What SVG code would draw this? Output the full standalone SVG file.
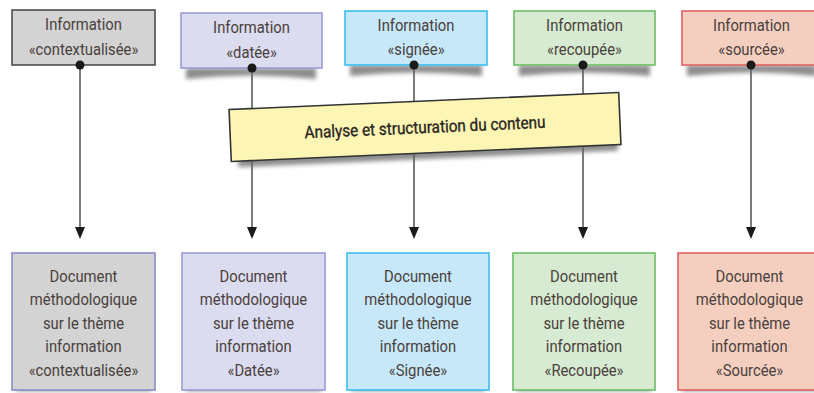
<svg xmlns="http://www.w3.org/2000/svg" width="814" height="393" viewBox="0 0 814 393">
<defs>
<style>
.t{font-family:Roboto,"Liberation Sans",sans-serif;font-size:17px;fill:#4a403c;text-anchor:middle}
.bt{font-family:Roboto,"Liberation Sans",sans-serif;font-size:17px;fill:#2a2522;stroke:#2a2522;stroke-width:0.35;text-anchor:middle}
.ln{stroke:#5a5a5a;stroke-width:1.6;fill:none}
.dot{fill:#1a1a1a}
.sh{fill:#666;opacity:0.75;filter:url(#blur)}
</style>
<filter id="blur" x="-20%" y="-100%" width="140%" height="300%"><feGaussianBlur stdDeviation="2"/></filter>
</defs>
<rect width="814" height="393" fill="#fff"/>

<g id="connectors">
<line class="ln" x1="80" y1="65" x2="80" y2="230"/>
<line class="ln" x1="252" y1="68" x2="252" y2="230"/>
<line class="ln" x1="414" y1="65" x2="414" y2="230"/>
<line class="ln" x1="583" y1="65" x2="583" y2="230"/>
<line class="ln" x1="751" y1="65" x2="751" y2="230"/>
<path d="M75,227 L85,227 L80,239 Z M247,227 L257,227 L252,239 Z M409,227 L419,227 L414,239 Z M578,227 L588,227 L583,239 Z M746,227 L756,227 L751,239 Z" fill="#1a1a1a"/>
</g>

<g id="top1">
<rect x="12" y="10" width="143" height="55" fill="#d3d3d3" stroke="#4d4d4d" stroke-width="1.6"/>
<g transform="translate(83.5,0) scale(0.87,1)"><text class="t" x="0" y="30">Information</text><text class="t" x="0" y="55">«contextualisée»</text></g>
<circle class="dot" cx="80" cy="65" r="4.5"/>
</g>
<g id="top2">
<path class="sh" d="M186,68 L316,68 L316,79 Q251,72 186,79 Z"/>
<rect x="181" y="13" width="141" height="55" fill="#dcdcf0" stroke="#9a9ad4" stroke-width="1.6"/>
<g transform="translate(251.5,0) scale(0.87,1)"><text class="t" x="0" y="33">Information</text><text class="t" x="0" y="58">«datée»</text></g>
<circle class="dot" cx="252" cy="68" r="4.5"/>
</g>
<g id="top3">
<path class="sh" d="M350,65 L482,65 L482,76 Q416,69 350,76 Z"/>
<rect x="345" y="11" width="142" height="54" fill="#c6e8f8" stroke="#3bbff0" stroke-width="1.6"/>
<g transform="translate(416,0) scale(0.87,1)"><text class="t" x="0" y="31">Information</text><text class="t" x="0" y="55">«signée»</text></g>
<circle class="dot" cx="414" cy="65" r="4.5"/>
</g>
<g id="top4">
<path class="sh" d="M519,65 L650,65 L650,76 Q584,69 519,76 Z"/>
<rect x="514" y="11" width="141" height="54" fill="#d6ebd1" stroke="#6cbd66" stroke-width="1.6"/>
<g transform="translate(584.5,0) scale(0.87,1)"><text class="t" x="0" y="31">Information</text><text class="t" x="0" y="55">«recoupée»</text></g>
<circle class="dot" cx="583" cy="65" r="4.5"/>
</g>
<g id="top5">
<path class="sh" d="M687,65 L816,65 L816,76 Q751,69 687,76 Z"/>
<rect x="682" y="11" width="140" height="54" fill="#f4cfc0" stroke="#e06060" stroke-width="1.6"/>
<g transform="translate(751.5,0) scale(0.87,1)"><text class="t" x="0" y="31">Information</text><text class="t" x="0" y="55">«sourcée»</text></g>
<circle class="dot" cx="751" cy="65" r="4.5"/>
</g>

<g id="banner" transform="translate(425,127) rotate(-2.5)">
<path class="sh" d="M-188,20 L192,20 L192,32 L-188,32 Z"/>
<rect x="-195" y="-26" width="390" height="52" fill="#fcf5b4" stroke="#333" stroke-width="1.6"/>
<g transform="scale(0.9,1)"><text class="bt" x="0" y="6">Analyse et structuration du contenu</text></g>
</g>

<g id="bottom1">
<rect class="sh" x="16" y="386" width="135" height="5"/>
<rect x="12" y="253" width="143" height="137" fill="#d3d3d3" stroke="#8a8cc8" stroke-width="1.6"/>
<g transform="translate(83.5,0) scale(0.87,1)"><text class="t" x="0" y="282">Document</text><text class="t" x="0" y="305">méthodologique</text><text class="t" x="0" y="329">sur le thème</text><text class="t" x="0" y="352">information</text><text class="t" x="0" y="376">«contextualisée»</text></g>
</g>
<g id="bottom2">
<rect class="sh" x="186" y="386" width="135" height="5"/>
<rect x="182" y="253" width="143" height="137" fill="#dcdcf0" stroke="#9a9ad4" stroke-width="1.6"/>
<g transform="translate(253.5,0) scale(0.87,1)"><text class="t" x="0" y="282">Document</text><text class="t" x="0" y="305">méthodologique</text><text class="t" x="0" y="329">sur le thème</text><text class="t" x="0" y="352">information</text><text class="t" x="0" y="376">«Datée»</text></g>
</g>
<g id="bottom3">
<rect class="sh" x="351" y="386" width="134" height="5"/>
<rect x="347" y="253" width="142" height="137" fill="#c6e8f8" stroke="#3bbff0" stroke-width="1.6"/>
<g transform="translate(418,0) scale(0.87,1)"><text class="t" x="0" y="282">Document</text><text class="t" x="0" y="305">méthodologique</text><text class="t" x="0" y="329">sur le thème</text><text class="t" x="0" y="352">information</text><text class="t" x="0" y="376">«Signée»</text></g>
</g>
<g id="bottom4">
<rect class="sh" x="517" y="386" width="134" height="5"/>
<rect x="513" y="253" width="142" height="137" fill="#d6ebd1" stroke="#6cbd66" stroke-width="1.6"/>
<g transform="translate(584,0) scale(0.87,1)"><text class="t" x="0" y="282">Document</text><text class="t" x="0" y="305">méthodologique</text><text class="t" x="0" y="329">sur le thème</text><text class="t" x="0" y="352">information</text><text class="t" x="0" y="376">«Recoupée»</text></g>
</g>
<g id="bottom5">
<rect class="sh" x="682" y="386" width="140" height="5"/>
<rect x="678" y="253" width="145" height="137" fill="#f4cfc0" stroke="#e06060" stroke-width="1.6"/>
<g transform="translate(749.5,0) scale(0.87,1)"><text class="t" x="0" y="282">Document</text><text class="t" x="0" y="305">méthodologique</text><text class="t" x="0" y="329">sur le thème</text><text class="t" x="0" y="352">information</text><text class="t" x="0" y="376">«Sourcée»</text></g>
</g>
</svg>
